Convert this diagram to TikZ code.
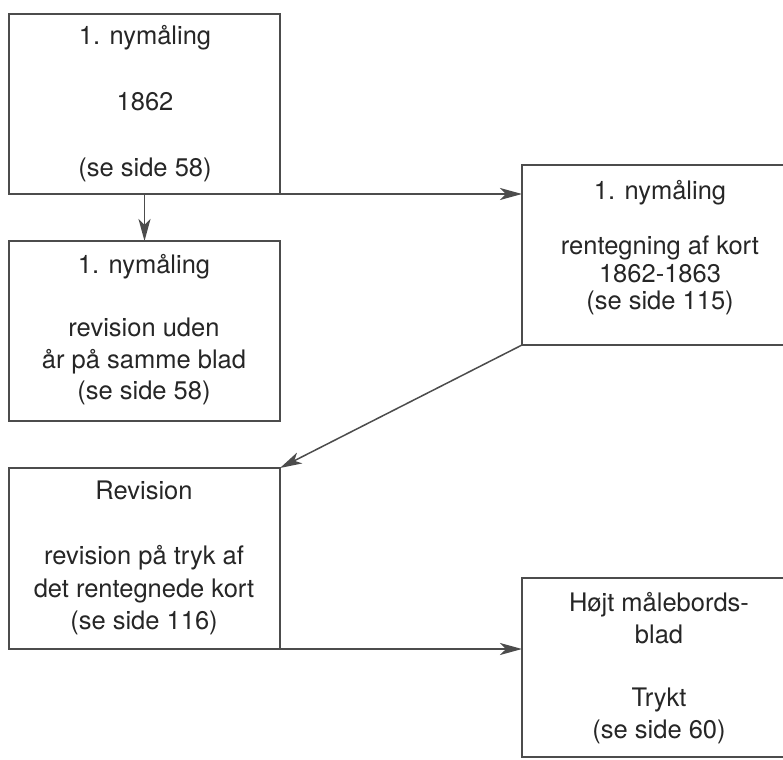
\documentclass[tikz,border=0pt]{standalone}
\usepackage{fontspec}
\setmainfont{TeX Gyre Heros}
\usetikzlibrary{arrows.meta}
\begin{document}
\begin{tikzpicture}[x=1pt,y=-1pt,
  box/.style={draw=black!70, line width=1.5pt, outer sep=0pt, inner sep=0pt, anchor=north west},
  txt/.style={align=center, text=black!85, inner sep=0pt},
  conn/.style={draw=black!70, line width=1.5pt, -{Stealth[length=22pt,width=12pt,inset=6pt]}}]
\clip (0,0) rectangle (783,759);
\fill[white] (0,0) rectangle (783,759);
% boxes
\node[box, minimum width=271pt, minimum height=180pt] (A) at (9,14) {};
\node[box, minimum width=271pt, minimum height=180pt] (B) at (9,241) {};
\node[box, minimum width=276pt, minimum height=180pt] (C) at (522,165) {};
\node[box, minimum width=271pt, minimum height=181pt] (D) at (9,468) {};
\node[box, minimum width=274pt, minimum height=179pt] (E) at (522,578) {};
% texts
\node[txt, font=\fontsize{25.5}{33}\selectfont] (At) at (145,104)
  {1. nymåling\\\mbox{}\\1862\\\mbox{}\\(se side 58)};
\node[txt, font=\fontsize{25.5}{31.5}\selectfont] (Bt) at (144,330)
  {1. nymåling\\\mbox{}\\revision uden\\år på samme blad\\(se side 58)};
\node[txt, font=\fontsize{25.5}{27.5}\selectfont] (Ct) at (660,248)
  {1. nymåling\\\mbox{}\\rentegning af kort\\1862-1863\\(se side 115)};
\node[txt, font=\fontsize{25.5}{32.5}\selectfont] (Dt) at (144,558)
  {Revision\\\mbox{}\\revision på tryk af\\det rentegnede kort\\(se side 116)};
\node[txt, font=\fontsize{25.5}{31.75}\selectfont] (Et) at (659,668)
  {Højt målebords-\\blad\\\mbox{}\\Trykt\\(se side 60)};
% connectors
\draw[conn] (A.south) -- (B.north);
\draw[conn] (A.south east) -- (A.south east -| C.west);
\draw[conn] (C.south west) -- (D.north east);
\draw[conn] (D.south east) -- (D.south east -| E.west);
\end{tikzpicture}
\end{document}
